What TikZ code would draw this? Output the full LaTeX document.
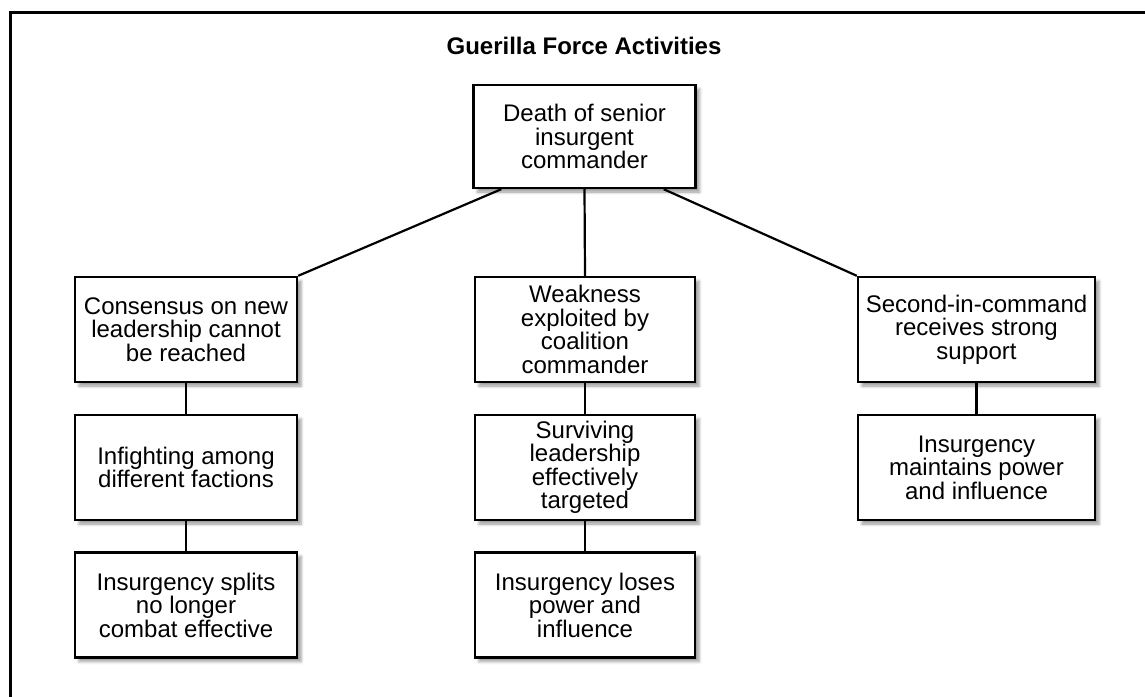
\documentclass[tikz,border=0pt]{standalone}
\usepackage{fontspec}
\setmainfont{Liberation Sans}
\usepackage{tikz}
\usetikzlibrary{positioning}
\usetikzlibrary{shadows.blur}

\begin{document}
\begin{tikzpicture}[x=1pt,y=-1pt,
  box/.style={draw, line width=2.4pt, fill=white, align=center, inner sep=0pt,
    font=\fontsize{24}{23.5}\selectfont, minimum width=222pt, minimum height=105pt,
    blur shadow={shadow xshift=4pt, shadow yshift=-4pt, shadow blur radius=3pt}},
  link/.style={line width=2.2pt}]
\useasboundingbox (0,0) rectangle (1145,696);
\draw[line width=3pt] (10,700) -- (10,12) -- (1150,12);
\node[anchor=base, font=\fontsize{24}{26}\selectfont\bfseries] (title) at (584,54) {Guerilla Force Activities};
\node[box, minimum height=103pt] (top) at (584.5,136.5) {Death of senior\\insurgent\\commander};
% left branch
\node[box] (cons) at (186,329.5) {Consensus on new\\leadership cannot\\be reached};
\node[box] (infight) at (186,467.5) {Infighting among\\different factions};
\node[box] (splits) at (186,605) {Insurgency splits\\no longer\\combat effective};
% middle branch
\node[box, minimum width=220pt] (weak) at (585,329.5) {Weakness\\exploited by\\coalition\\commander};
\node[box, minimum width=220pt] (surv) at (585,467.5) {Surviving\\leadership\\effectively\\targeted};
\node[box, minimum width=220pt] (loses) at (585,605) {Insurgency loses\\power and\\influence};
% right branch
\node[box, minimum width=237pt] (second) at (976.5,329.5) {Second-in-command\\receives strong\\support};
\node[box, minimum width=237pt] (keeps) at (976.5,467.5) {Insurgency\\maintains power\\and influence};
\draw[link] ([xshift=29pt]top.south west) -- (cons.north east);
\draw[link] (top.south) -- (weak.north);
\draw[link] ([xshift=-33pt]top.south east) -- (second.north west);
\draw[link] (cons) -- (infight);
\draw[link] (infight) -- (splits);
\draw[link] (weak) -- (surv);
\draw[link] (surv) -- (loses);
\draw[link] (second) -- (keeps);
\end{tikzpicture}
\end{document}
